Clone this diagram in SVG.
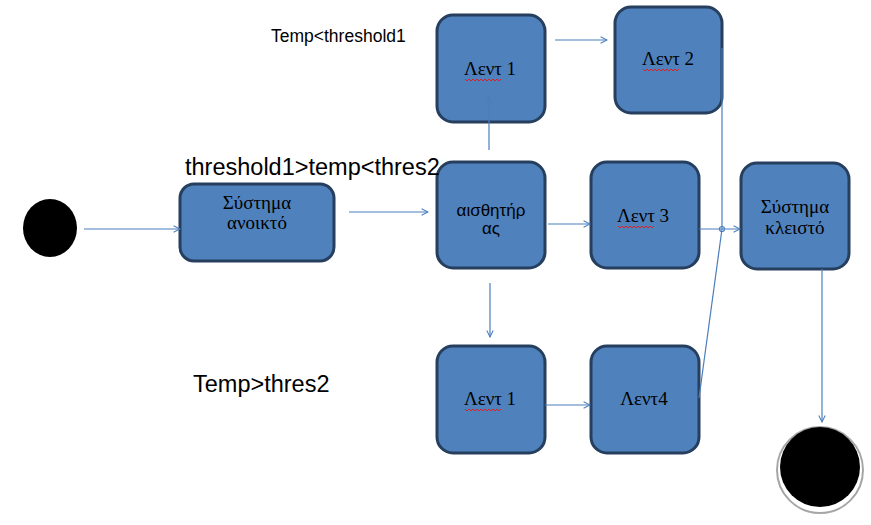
<svg xmlns="http://www.w3.org/2000/svg" width="871" height="525" viewBox="0 0 871 525">
<defs>
<marker id="arr" viewBox="0 0 10 10" refX="9" refY="5" markerWidth="8" markerHeight="8" markerUnits="userSpaceOnUse" orient="auto">
<path d="M1,1 L9,5 L1,9" fill="none" stroke="#4a7ebb" stroke-width="1.3"/>
</marker>
</defs>
<style>
.box{fill:#4f81bd;stroke:#263f5e;stroke-width:3}
.t{font-family:"Liberation Serif","DejaVu Serif",serif;font-size:19px;fill:#000;text-anchor:middle}
.s{font-family:"Liberation Sans",Arial,sans-serif;fill:#000}
.c{fill:none;stroke:#4a7ebb;stroke-width:1.2}
.sq{fill:none;stroke:#e02020;stroke-width:1}
</style>
<rect width="871" height="525" fill="#fff"/>
<g id="start"><ellipse cx="50" cy="228" rx="27" ry="29" fill="#000"/></g>
<g id="end">
<circle cx="820" cy="470" r="43" fill="#fff" stroke="#a6a6a6" stroke-width="2"/>
<circle cx="820" cy="467" r="40" fill="#000"/>
</g>
<g id="open"><rect class="box" x="180" y="184" width="154" height="77" rx="14"/>
<text class="t" x="257" y="209" font-size="17">Σύστημα</text><text class="t" x="257" y="229" font-size="17">ανοικτό</text></g>
<g id="sensor"><rect class="box" x="437" y="162" width="108" height="106" rx="16"/>
<text class="s" x="491" y="216" font-size="17" text-anchor="middle">αισθητήρ</text><text class="s" x="491" y="234" font-size="17" text-anchor="middle">ας</text></g>
<g id="lent1top"><rect class="box" x="437" y="15" width="108" height="107" rx="16"/>
<text class="t" x="490" y="75">Λεντ 1</text><path class="sq" d="M465,79 l2,2 l2,-2 l2,2 l2,-2 l2,2 l2,-2 l2,2 l2,-2 l2,2 l2,-2 l2,2 l2,-2 l2,2 l2,-2 l2,2 l2,-2 l2,2 l2,-2"/></g>
<g id="lent2"><rect class="box" x="615" y="7" width="107" height="106" rx="16"/>
<text class="t" x="668" y="65">Λεντ 2</text><path class="sq" d="M643,69 l2,2 l2,-2 l2,2 l2,-2 l2,2 l2,-2 l2,2 l2,-2 l2,2 l2,-2 l2,2 l2,-2 l2,2 l2,-2 l2,2 l2,-2 l2,2 l2,-2"/></g>
<g id="lent3"><rect class="box" x="591" y="162" width="108" height="106" rx="16"/>
<text class="t" x="643" y="222">Λεντ 3</text><path class="sq" d="M618,226 l2,2 l2,-2 l2,2 l2,-2 l2,2 l2,-2 l2,2 l2,-2 l2,2 l2,-2 l2,2 l2,-2 l2,2 l2,-2 l2,2 l2,-2 l2,2 l2,-2"/></g>
<g id="closed"><rect class="box" x="741" y="163" width="108" height="106" rx="16"/>
<text class="t" x="795" y="213" font-size="20">Σύστημα</text><text class="t" x="795" y="234" font-size="20">κλειστό</text></g>
<g id="lent1bot"><rect class="box" x="437" y="346" width="108" height="107" rx="16"/>
<text class="t" x="490" y="405">Λεντ 1</text><path class="sq" d="M465,409 l2,2 l2,-2 l2,2 l2,-2 l2,2 l2,-2 l2,2 l2,-2 l2,2 l2,-2 l2,2 l2,-2 l2,2 l2,-2 l2,2 l2,-2 l2,2 l2,-2"/></g>
<g id="lent4"><rect class="box" x="591" y="346" width="108" height="107" rx="16"/>
<text class="t" x="644" y="405">Λεντ4</text></g>
<g id="connectors">
<line class="c" x1="84" y1="229" x2="180" y2="229" marker-end="url(#arr)"/>
<line class="c" x1="349" y1="212" x2="428" y2="212" marker-end="url(#arr)"/>
<line class="c" x1="489" y1="150" x2="489" y2="97" marker-end="url(#arr)"/>
<line class="c" x1="555" y1="40" x2="607" y2="40" marker-end="url(#arr)"/>
<line class="c" x1="548" y1="224" x2="590" y2="224" marker-end="url(#arr)"/>
<line class="c" x1="490" y1="283" x2="490" y2="337" marker-end="url(#arr)"/>
<line class="c" x1="545" y1="405" x2="590" y2="405" marker-end="url(#arr)"/>
<line class="c" x1="722" y1="48" x2="722" y2="229"/>
<line class="c" x1="699" y1="398" x2="722" y2="229"/>
<line class="c" x1="699" y1="229" x2="740" y2="229" marker-end="url(#arr)"/>
<circle cx="722" cy="229" r="2.5" fill="none" stroke="#4a7ebb" stroke-width="1.2"/>
<line class="c" x1="822" y1="269" x2="822" y2="422" marker-end="url(#arr)"/>
</g>
<text class="s" x="271" y="42" font-size="17.5">Temp&lt;threshold1</text>
<text class="s" x="185" y="175" font-size="23.5">threshold1&gt;temp&lt;thres2</text>
<text class="s" x="193" y="392" font-size="23.5">Temp&gt;thres2</text>
</svg>
